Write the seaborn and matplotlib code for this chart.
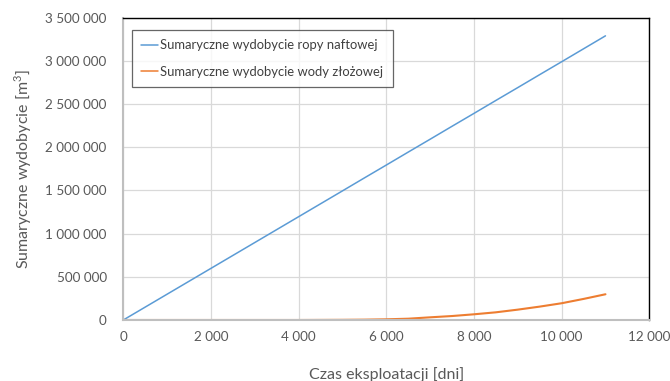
import matplotlib
matplotlib.use("Agg")
import matplotlib.pyplot as plt
import seaborn as sns
import pandas as pd
from matplotlib.ticker import FuncFormatter, MultipleLocator

days = [0, 1000, 2000, 3000, 4000, 5000, 5500, 6000, 6500, 7000, 7500, 8000,
        8500, 9000, 9500, 10000, 10500, 11000]
oil = [0, 299000, 598000, 897000, 1196000, 1495000, 1645000, 1794000, 1944000,
       2093000, 2243000, 2392000, 2542000, 2691000, 2841000, 2990000, 3140000, 3290000]
water = [0, 0, 0, 0, 0, 2000, 4000, 8000, 15000, 31000, 46000, 66000,
         89000, 120000, 155000, 194000, 244000, 298000]
series_names = ["Sumaryczne wydobycie ropy naftowej", "Sumaryczne wydobycie wody złożowej"]
xlabel = "Czas eksploatacji [dni]"
ylabel = "Sumaryczne wydobycie [m$^3$]"

df = pd.DataFrame({
    "days": days * 2,
    "value": oil + water,
    "series": [series_names[0]] * len(days) + [series_names[1]] * len(days),
})

sns.set_style("white")
plt.rcParams["font.family"] = ["Lato", "DejaVu Sans"]
plt.rcParams["mathtext.fontset"] = "custom"
plt.rcParams["mathtext.rm"] = "Lato"

fig = plt.figure(figsize=(6.7, 3.81), dpi=100)
ax = fig.add_axes([123.3 / 670, 1 - 320 / 381, (649.3 - 123.3) / 670, (320 - 17.7) / 381])

palette = {series_names[0]: "#5b9bd5", series_names[1]: "#ed7d31"}
sns.lineplot(data=df, x="days", y="value", hue="series", palette=palette, ax=ax, linewidth=1.1)
ax.lines[1].set_linewidth(1.5)

ax.set_xlim(0, 12000)
ax.set_ylim(0, 3500000)
ax.xaxis.set_major_locator(MultipleLocator(2000))
ax.yaxis.set_major_locator(MultipleLocator(500000))
fmt = FuncFormatter(lambda v, p: f"{int(round(v)):,}".replace(",", " "))
ax.xaxis.set_major_formatter(fmt)
ax.yaxis.set_major_formatter(fmt)
ax.grid(True, color="#d9d9d9", linewidth=0.9)
ax.set_axisbelow(True)
ax.tick_params(axis="both", labelsize=9.7, colors="#595959", length=0, pad=8)
ax.tick_params(axis="y", pad=12)

for s in ["top", "right"]:
    ax.spines[s].set_color("black")
    ax.spines[s].set_linewidth(1.0)
for s in ["left", "bottom"]:
    ax.spines[s].set_color("#bfbfbf")
    ax.spines[s].set_linewidth(1.5)

ax.set_xlabel(xlabel, fontsize=11.5, color="#595959", labelpad=17)
ax.set_ylabel(ylabel, fontsize=11.5, color="#595959", labelpad=8)

leg = ax.legend(loc="upper left", bbox_to_anchor=(8.4 / 526, 1 - 12.3 / 302.3), frameon=True,
                fancybox=False, fontsize=9.4, handlelength=1.3, handletextpad=0.2,
                borderpad=0.7, labelspacing=1.1, borderaxespad=0, title=None)
leg.get_frame().set_edgecolor("#404040")
leg.get_frame().set_linewidth(0.9)
for t in leg.get_texts():
    t.set_color("#404040")

fig.savefig("out.png", dpi=100)
